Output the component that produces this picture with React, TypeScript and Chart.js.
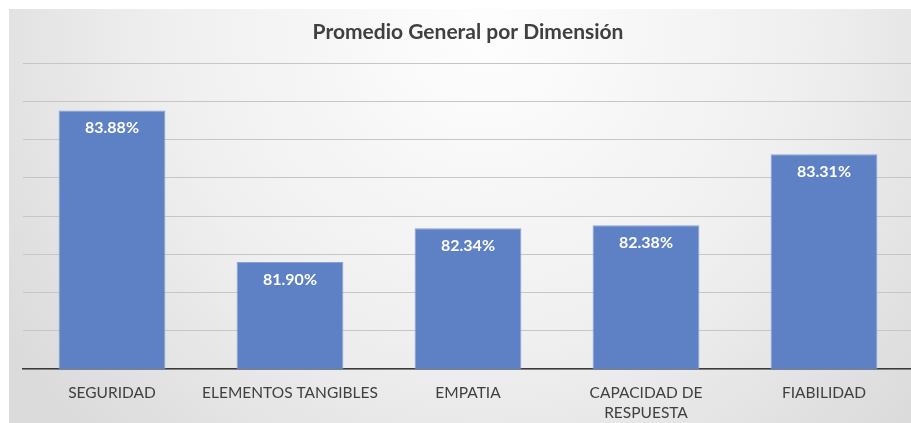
import React, { useEffect, useRef } from "react";
import { Chart, registerables } from "chart.js";

Chart.register(...registerables);

const categories: (string | string[])[] = [
  "SEGURIDAD",
  "ELEMENTOS TANGIBLES",
  "EMPATIA",
  ["CAPACIDAD DE", "RESPUESTA"],
  "FIABILIDAD",
];
const values: number[] = [83.88, 81.9, 82.34, 82.38, 83.31];
const valueLabels: string[] = ["83.88%", "81.90%", "82.34%", "82.38%", "83.31%"];
const yMin = 80.5;
const yMax = 84.5;
const yStep = 0.5;
const titleText = "Promedio General por Dimensión";

const FONT = "Lato, 'Open Sans', sans-serif";

const backgroundPlugin = {
  id: "bgGradient",
  beforeDraw(chart: any) {
    const { ctx, width, height } = chart;
    ctx.save();
    const g = ctx.createRadialGradient(width * 0.52, height * 0.05, 20, width * 0.52, height * 0.05, width * 0.62);
    g.addColorStop(0, "#fdfdfd");
    g.addColorStop(0.55, "#efefef");
    g.addColorStop(1, "#dbdbdb");
    ctx.fillStyle = g;
    ctx.fillRect(0, 0, width, height);
    ctx.restore();
  },
};

const valueLabelPlugin = {
  id: "valueLabels",
  afterDatasetsDraw(chart: any) {
    const { ctx } = chart;
    const meta = chart.getDatasetMeta(0);
    ctx.save();
    ctx.fillStyle = "#ffffff";
    ctx.font = `bold 16px ${FONT}`;
    ctx.textAlign = "center";
    ctx.textBaseline = "middle";
    meta.data.forEach((bar: any, i: number) => {
      ctx.fillText(valueLabels[i], bar.x, bar.y + 17.5);
    });
    ctx.restore();
  },
};

export default function App() {
  const canvasRef = useRef<HTMLCanvasElement | null>(null);

  useEffect(() => {
    if (!canvasRef.current) return;
    const chart = new Chart(canvasRef.current, {
      type: "bar",
      data: {
        labels: categories,
        datasets: [
          {
            data: values,
            backgroundColor: "#5e80c4",
            borderColor: "#86a2d8",
            borderWidth: 1,
            barPercentage: 0.6,
            categoryPercentage: 1,
          },
        ],
      },
      options: {
        animation: false,
        responsive: false,
        maintainAspectRatio: false,
        layout: { padding: { left: 14, right: 14, top: 0, bottom: 0 } },
        plugins: {
          legend: { display: false },
          tooltip: { enabled: false },
          title: {
            display: true,
            text: titleText,
            color: "#404040",
            font: { family: FONT, size: 21, weight: "bold" },
            padding: { top: 11, bottom: 18 },
          },
        },
        scales: {
          x: {
            grid: { display: false, drawTicks: false },
            border: { display: true, color: "#3a3a3a", width: 1.5 },
            ticks: {
              color: "#404040",
              font: { family: FONT, size: 15.5, lineHeight: 1.3 },
              padding: 13.5,
              maxRotation: 0,
              autoSkip: false,
            },
            afterFit(scale: any) {
              scale.height = 54;
            },
          },
          y: {
            min: yMin,
            max: yMax,
            ticks: { display: false, stepSize: yStep },
            grid: { color: "#c6c6c6", lineWidth: 1, drawTicks: false },
            border: { display: false },
          },
        },
      },
      plugins: [backgroundPlugin, valueLabelPlugin],
    });
    return () => chart.destroy();
  }, []);

  return (
    <div
      style={{
        position: "fixed",
        left: 9,
        top: 9,
        width: 902,
        height: 414,
        overflow: "hidden",
      }}
    >
      <canvas ref={canvasRef} width={918} height={414} style={{ display: "block" }} />
    </div>
  );
}
